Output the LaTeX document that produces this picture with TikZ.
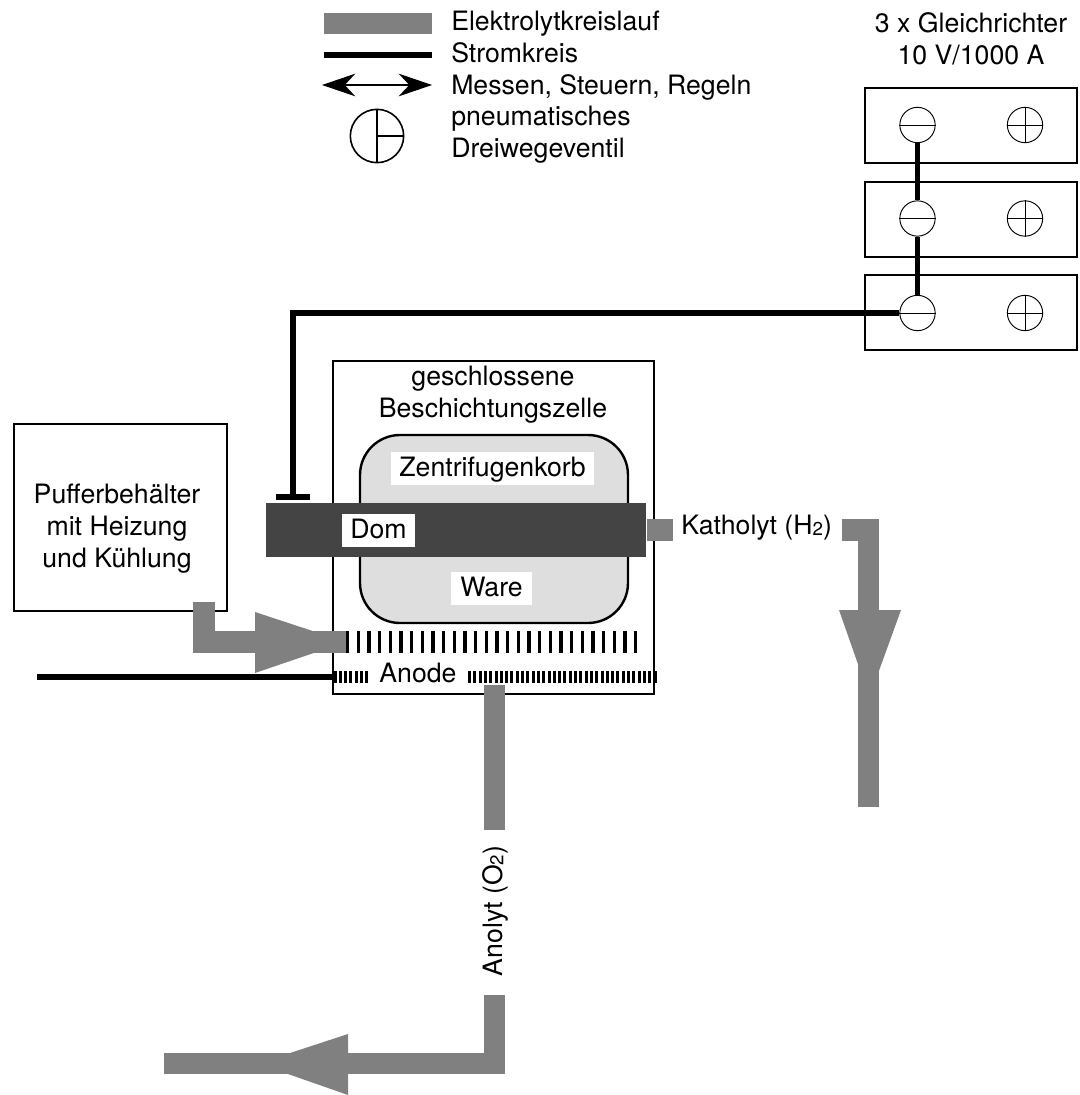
\documentclass[tikz,border=0pt]{standalone}
\usepackage{fontspec}
\setmainfont{TeX Gyre Heros}
\usetikzlibrary{arrows.meta,positioning}
\definecolor{pipegray}{HTML}{808080}
\definecolor{domgray}{HTML}{444444}
\definecolor{korbgray}{HTML}{DEDEDE}
\newcommand{\idx}[1]{\raisebox{-1pt}{\fontsize{14}{14}\selectfont #1}}

\begin{document}
\begin{tikzpicture}[x=0.75pt,y=-0.75pt,
 pipe/.style={draw=pipegray,line width=16pt,miter limit=10},
 head/.style={fill=pipegray},
 wire/.style={draw=black,line width=4pt},
 boxline/.style={draw=black,line width=1.8pt,fill=white},
 pol/.style={circle,draw=black,fill=white,line width=0.7pt,minimum size=26.5pt,inner sep=0pt},
 lab/.style={font=\fontsize{20}{24}\selectfont,inner sep=0pt,align=center},
 leg/.style={lab,anchor=base west},
 tag/.style={lab,fill=white,anchor=base,text height=18pt,text depth=6.75pt}]
\useasboundingbox (0,0) rectangle (1079,1095);
\fill[white] (0,0) rectangle (1079,1095);
% legend
\draw[pipe] (324,23.5)--(432,23.5);
\draw[wire] (324,55)--(432,55);
\draw[line width=0.8pt,{Stealth[length=25pt,width=17pt,inset=8pt]}-{Stealth[length=25pt,width=17pt,inset=8pt]}] (322,85)--(432,85);
\node[circle,draw=black,line width=1.2pt,minimum size=40pt,inner sep=0pt] (valve) at (377,136) {};
\draw[line width=1.2pt] (valve.north)--(valve.south);
\draw[line width=1.2pt] (valve.center)--(valve.east);
\node[leg] at (451,31) {Elektrolytkreislauf};
\node[leg] at (451,63) {Stromkreis};
\node[leg] at (451,95) {Messen, Steuern, Regeln};
\node[leg] at (451,126) {pneumatisches};
\node[leg] at (451,158) {Dreiwegeventil};
% rectifiers
\node[lab] at (971,39) {3 x Gleichrichter\\10 V/1000 A};
\foreach \i/\y/\t in {1/125/88,2/218.5/182,3/313/275}{
 \draw[boxline] (865,\t) rectangle (1077,\t+75);
 \node[pol] (m\i) at (917.5,\y) {};
 \node[pol] (p\i) at (1025,\y) {};
 \draw[line width=0.7pt] (m\i.west)--(m\i.east);
 \draw[line width=0.7pt] (p\i.west)--(p\i.east);
 \draw[line width=0.7pt] (p\i.north)--(p\i.south);
}
\draw[wire] (m1)--(m2);
\draw[wire] (m2)--(m3);
% cell
\draw[boxline] (333,361) rectangle (654,694);
\node[lab] at (493,395) {geschlossene\\Beschichtungszelle};
\draw[draw=black,fill=korbgray,line width=1.8pt,rounded corners=40pt*0.75] (360,435) rectangle (628,623);
\coordinate (T) at (293,497);
\draw[wire,line join=miter] (m3.west)-|(T);
\draw[wire] (276,497)--(310,497);
\fill[domgray] (266,503) rectangle (646,557);
\node[tag,minimum width=152pt] at (492.5,476) {Zentrifugenkorb};
\node[tag,minimum width=55pt] at (378.5,538) {Dom};
\node[tag,minimum width=61pt] at (491.5,596) {Ware};
% buffer
\draw[boxline] (14,424) rectangle (227,611);
\node[lab] at (117,529) {Pufferbehälter\\mit Heizung\\und Kühlung};
% anode
\draw[wire] (37,677)--(333,677);
\foreach \i in {0,...,27}
 \fill (346+10.67*\i,631) rectangle +(3.4,22);
\foreach \i in {0,...,6}
 \fill (333.5+5.3*\i,671) rectangle +(3,12);
\foreach \i in {0,...,35}
 \fill (468+5.3*\i,671) rectangle +(3,12);
\node[lab,anchor=base] at (418,682) {Anode};
% flows
\draw[pipe] (204,602)--(204,642)--(346,642);
\fill[head] (255,612)--(346,642)--(255,673)--cycle;
\draw[pipe] (494.5,685)--(494.5,830);
\node[lab,rotate=90,anchor=base] at (502,911) {Anolyt (O\idx{2})};
\draw[pipe] (494.5,995)--(494.5,1063.5)--(164,1063.5);
\fill[head] (348,1034)--(258,1063.5)--(348,1095)--cycle;
\draw[pipe] (647,530)--(673,530);
\node[lab,anchor=base west] at (681,534) {Katholyt (H\idx{2})};
\draw[pipe] (842,530)--(868.5,530)--(868.5,807);
\fill[head] (839,610)--(901,610)--(869.5,697)--cycle;
\end{tikzpicture}
\end{document}
